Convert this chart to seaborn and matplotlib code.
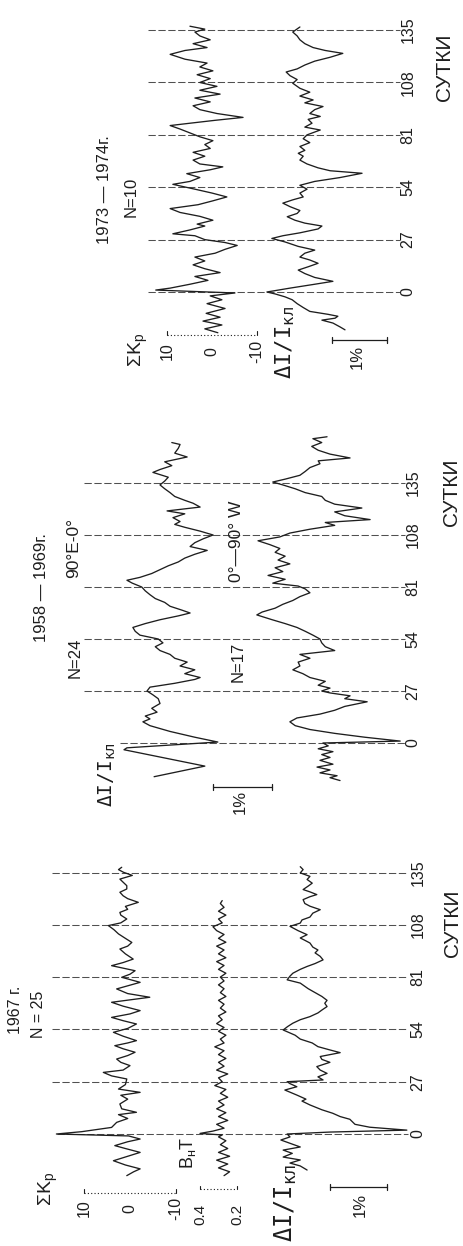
import matplotlib
matplotlib.use("Agg")
import matplotlib.pyplot as plt
import seaborn as sns

W, H, DPI = 464, 1246, 100
INK = "#1e1e1e"
GRID = "#505050"

DAY_TICKS = [0, 27, 54, 81, 108, 135]
DAY_LABELS = ["0", "27", "54", "81", "108", "135"]

# ---------------- 1967, N = 25 ----------------
kp67_days = [-21.5, -19.5, -18, -16, -13.8, -11.5, -9.5, -7.5, -6, -4,
             -2.6, -1, 0, 1.2, 3.4, 6, 8, 10, 11.2, 13,
             15.5, 18, 20, 21.5, 23.2, 25.5, 28.4, 30, 31.8, 33,
             35.3, 37, 38.7, 40.5, 42.2, 44, 45.6, 47, 48.2, 50.5,
             52.5, 54.5, 56.8, 58.5, 60.2, 62, 63.7, 66, 68, 70.6,
             72.5, 74.9, 76.5, 78.3, 80.9, 82.5, 84.3, 86.9, 88.5, 90.3,
             93, 95.5, 97, 98.9, 101, 103.3, 105.5, 107.6, 109, 111,
             113, 114.4, 116, 117.5, 119.6, 121.5, 123, 124.8, 126.5, 128.2,
             130, 131.6, 133.5, 135.1, 136.5, 137.7]
kp67 = [0.7, -0.8, -2.2, 1.0, 3.6, 0.5, -2.2, 1.0, 3.3, 0.5,
        -2.2, 0.3, 16.0, 10.5, 4.0, 2.9, 0.5, 2.5, -1.4, 1.8,
        2.2, 0.5, 2.0, -2.2, 2.5, 1.0, 0.7, 4.0, 5.8, 1.5,
        0.0, 2.0, 2.9, 0.5, -1.1, 1.5, 3.3, 0.5, -1.4, 1.5,
        3.6, 0.5, -1.4, 1.5, 4.0, 0.0, -2.2, 1.5, 4.0, -4.3,
        0.5, 2.9, 0.5, -2.2, 1.8, 0.0, -1.1, 4.0, 1.5, -0.7,
        1.0, 2.2, 0.5, -0.4, 1.0, 2.5, 3.5, 4.7, 2.0, 0.7,
        2.0, 2.2, 0.5, 1.0, -1.8, 0.5, 1.5, 2.2, 0.7, 0.7,
        1.5, 2.2, -0.5, 1.4, 2.5, 1.8]

b67_days = [-21.5, -19.5, -17.5, -15.5, -13.5, -11.5, -9.5, -7.5, -5.5, -3.5,
            -1.5, -0.5, 0.3, 1.5, 3, 5, 7, 9, 11, 13,
            15, 17, 19, 21, 23, 25, 27, 29, 31, 33,
            35, 37, 39, 41, 43, 45, 47, 49, 51, 53,
            55, 57, 59, 61, 63, 65, 67, 69, 71, 73,
            75, 77, 79, 81, 83, 85, 87, 89, 91, 93,
            95, 97, 99, 101, 103, 105, 107, 109, 111, 113,
            115, 117, 119, 120.5]
b67 = [0.27, 0.24, 0.30, 0.25, 0.31, 0.24, 0.30, 0.25, 0.29, 0.26,
       0.30, 0.28, 0.40, 0.33, 0.27, 0.31, 0.25, 0.30, 0.26, 0.31,
       0.27, 0.30, 0.25, 0.29, 0.26, 0.32, 0.28, 0.30, 0.25, 0.31,
       0.27, 0.30, 0.26, 0.30, 0.27, 0.32, 0.27, 0.29, 0.26, 0.30,
       0.27, 0.31, 0.28, 0.30, 0.26, 0.29, 0.27, 0.30, 0.26, 0.29,
       0.27, 0.30, 0.27, 0.29, 0.26, 0.30, 0.27, 0.31, 0.26, 0.30,
       0.27, 0.31, 0.26, 0.30, 0.27, 0.31, 0.33, 0.28, 0.30, 0.26,
       0.30, 0.27, 0.29, 0.28]

di67_days = [-18.6, -16.5, -15, -13.4, -11.9, -10, -8.3, -6.7, -4.8, -3.1,
             -1.5, 0, 1.0, 2.0, 3.5, 5, 7.6, 9, 10.7, 12.5,
             15, 17, 18, 20.1, 22.7, 24.4, 26, 27, 27.9, 29.5,
             31.3, 33, 34.8, 37, 38.5, 40, 42, 43.4, 45.1, 47,
             49, 51, 53.7, 55.5, 57.2, 59, 60.6, 62.5, 64, 65.8,
             67.5, 69, 71, 73, 75, 77.9, 79.6, 81.5, 83, 85,
             86.5, 88, 89.9, 91.7, 93.5, 95, 96.5, 98.6, 100, 101.2,
             102.9, 105, 107.2, 108.9, 110.5, 112, 114, 115.8, 117.6, 119,
             121, 122.5, 123.6, 125, 126.2, 128, 129.5, 131.4, 133, 134.8,
             136.5, 138]
di67 = [-0.30, -0.18, 0.00, -0.18, 0.12, -0.04, 0.12, -0.18, 0.00, 0.16,
        0.00, 0.05, -0.70, -2.05, -1.40, -1.14, -1.05, -0.88, -0.75, -0.56,
        -0.35, -0.21, -0.28, -0.12, 0.09, -0.12, 0.00, 0.05, -0.58, -0.49,
        -0.65, -0.53, -0.47, -0.70, -0.56, -0.53, -0.88, -0.70, -0.49, -0.39,
        -0.18, -0.09, 0.12, 0.04, -0.05, -0.18, -0.35, -0.49, -0.56, -0.65,
        -0.61, -0.65, -0.56, -0.44, -0.32, -0.18, 0.05, 0.00, -0.05, -0.18,
        -0.30, -0.44, -0.58, -0.53, -0.44, -0.49, -0.40, -0.35, -0.26, -0.18,
        -0.30, -0.14, 0.00, -0.18, -0.21, -0.35, -0.40, -0.53, -0.35, -0.26,
        -0.23, -0.35, -0.47, -0.35, -0.23, -0.32, -0.39, -0.30, -0.35, -0.18,
        -0.23, -0.18]

# ---------------- 1958-1969 ----------------
di_e_days = [-17.5, -12, -3.5, -2.5, 0.5, 3, 6, 9,
             11, 12.5, 14, 16, 18, 20.5, 23, 25, 27, 29,
             31, 33, 34, 36, 38, 40, 42, 44, 46, 48,
             50, 52, 54, 56, 58, 60, 62, 64, 66, 67.5,
             69, 71, 73, 75, 77, 79, 81, 83, 84.5, 86,
             88, 90, 92, 94, 96, 98, 100, 102, 104, 106,
             108, 110, 112, 113.5, 115, 117, 119, 120.5, 122.5, 124.5,
             126, 128, 130, 132, 134, 136, 138, 140.5, 142, 144,
             146, 148.5, 150.5, 153, 155, 156]
di_e = [0.10, -0.76, 0.61, 0.56, -0.98, -0.59, -0.17, 0.17,
        0.29, 0.17, 0.25, 0.05, 0.14, 0.00, 0.03, 0.12, 0.22, 0.17,
        -0.25, -0.59, -0.68, -0.42, -0.59, -0.34, -0.46, -0.25, -0.17, 0.00,
        0.08, -0.05, 0.03, 0.34, 0.42, 0.46, 0.25, 0.00, -0.31, -0.51,
        -0.37, -0.17, -0.08, 0.08, 0.17, 0.25, 0.31, 0.47, 0.56, 0.34,
        0.14, 0.00, -0.14, -0.31, -0.42, -0.59, -0.80, -0.51, -0.59, -0.73,
        -0.90, -0.68, -0.42, -0.25, -0.34, -0.22, -0.42, -0.12, -0.68, -0.56,
        -0.42, -0.25, -0.17, -0.08, 0.00, -0.08, -0.14, 0.12, 0.00, -0.20,
        -0.08, -0.46, -0.25, -0.31, -0.34, -0.20]

di_w_days = [-19.5, -18, -17, -15.5, -14, -12.5, -11, -9, -7.5, -6,
             -4.5, -3, -1.5, 0, 1, 3, 5, 7, 9, 11,
             13, 15, 17, 19, 21.4, 23, 24.5, 26, 27, 28.5,
             30, 32, 34, 36, 38, 40, 42, 44, 46, 48,
             50, 52, 54, 56, 58, 60, 62, 64, 66.5, 68,
             70, 72, 74, 76, 78, 80, 81.5, 83, 85, 87,
             89, 91, 93, 95, 97, 99, 101, 103, 105, 107,
             109, 111, 113, 114.5, 116, 118, 120, 122, 124, 126,
             128, 130, 132, 134, 135.5, 137, 139, 141, 143, 145,
             146.5, 148, 150, 152, 154, 156, 158, 159]
di_w = [-0.17, 0.00, -0.12, 0.17, 0.00, 0.22, -0.05, 0.17, 0.00, 0.14,
        -0.05, 0.20, 0.03, 0.12, -1.19, -0.59, -0.08, 0.34, 0.59, 0.68,
        0.56, 0.17, -0.08, -0.25, -0.63, -0.25, -0.34, 0.00, 0.14, 0.00,
        0.20, 0.08, 0.34, 0.46, 0.63, 0.51, 0.54, 0.34, 0.51, -0.08,
        0.08, 0.14, 0.17, 0.29, 0.42, 0.56, 0.76, 0.98, 1.24, 1.15,
        0.93, 0.80, 0.63, 0.51, 0.34, 0.42, 0.54, 0.97, 0.76, 1.05,
        0.80, 0.93, 0.68, 0.88, 0.76, 0.93, 0.85, 1.02, 1.22, 0.85,
        0.68, 0.34, -0.08, 0.08, -0.68, -0.25, -0.08, -0.54, -0.08, 0.08,
        0.14, 0.42, 0.59, 0.80, 0.97, 0.76, 0.51, 0.42, 0.34, 0.17,
        0.20, -0.34, 0.00, 0.20, 0.31, 0.14, 0.29, 0.05]

# ---------------- 1973-1974, N = 10 ----------------
kp73_days = [-21, -19, -17, -15, -13, -11, -8.5, -6, -4, -2,
             -0.5, 1, 2, 4, 6, 8, 10, 12, 14, 16,
             18, 20, 22, 24, 25.5, 27, 29, 30, 32, 34,
             35, 37, 39, 41, 43, 45, 47, 49, 51, 53,
             55.5, 57, 59, 61, 63, 64.5, 66, 68, 70, 72,
             74, 76, 78, 80, 82, 84, 85.8, 87, 88.5, 90,
             92, 94, 96, 98, 100, 102, 104, 106, 108, 110,
             112, 114, 116, 118, 120, 122.5, 124.5, 126, 128, 130,
             132, 134, 135.5, 137]
kp73 = [-1.3, 1.6, -2.2, 2.0, -1.8, 1.3, -2.9, 1.1, -2.2, 0.4,
        -5.1, 12.5, 9.3, 4.9, 0.9, 3.8, -1.8, 1.6, 4.2, 1.6,
        3.8, -0.7, -2.9, -5.6, -2.9, 1.6, 3.8, 8.7, 4.9, 1.6,
        3.3, -0.2, 2.7, 7.1, 9.3, 3.1, -0.2, -3.3, 0.0, 3.8,
        8.7, 4.9, 2.7, 5.6, 0.4, -2.4, 2.7, 4.2, 1.6, 4.2,
        0.4, 1.6, -0.2, 2.7, 4.9, 7.1, 9.3, 4.9, -0.7, -6.9,
        -1.1, 2.7, 4.2, 0.4, 3.8, -1.8, 2.7, -1.1, 2.7, 0.4,
        3.3, -0.2, 2.7, 1.1, 6.0, 9.3, 6.0, 1.1, 4.2, 0.4,
        2.7, 3.8, 1.6, 4.9]

di73_days = [-19.5, -18, -16, -14.5, -13.5, -12.5, -11.5, -10, -8, -6,
             -4, -2.5, -1, 0, 2, 4, 5.5, 7.5, 9.5, 11.3,
             13, 14.8, 16.5, 18, 20, 21.6, 23.5, 25.8, 27.6, 29,
             30.5, 32.5, 34, 35.5, 37, 38.8, 40.5, 42, 44, 45.8,
             47.5, 49, 51, 53, 55, 57, 59, 61.2, 62.5, 64,
             66, 68, 70, 71.5, 73, 75, 77, 79, 81, 83.5,
             85, 87, 89, 90.5, 92, 94, 95.6, 97.5, 99, 101,
             103, 105, 107.6, 109.5, 111.5, 113.4, 115, 117, 119, 121,
             123, 124.5, 126, 128, 130, 132, 134, 136.6]
di73 = [-1.00, -0.91, -0.78, -0.58, -0.82, -0.87, -0.69, -0.36, -0.24, -0.13,
        -0.04, 0.09, 0.27, 0.42, 0.00, -0.45, -0.78, -0.45, -0.27, -0.15,
        -0.33, -0.51, -0.36, -0.18, -0.27, -0.45, -0.15, 0.09, 0.33, 0.13,
        -0.18, -0.51, -0.58, -0.27, -0.09, 0.05, -0.13, -0.18, 0.00, 0.13,
        -0.05, -0.24, -0.18, -0.31, -0.18, -0.45, -0.91, -1.31, -0.73, -0.51,
        -0.31, -0.18, -0.24, -0.15, -0.27, -0.18, -0.36, -0.24, -0.31, -0.55,
        -0.27, -0.40, -0.33, -0.55, -0.36, -0.45, -0.60, -0.27, -0.42, -0.18,
        -0.36, -0.18, -0.05, -0.13, 0.00, 0.07, -0.13, -0.27, -0.45, -0.73,
        -0.96, -0.64, -0.42, -0.27, -0.18, -0.13, -0.05, -0.18]

# ---------------- figure ----------------
sns.set_theme(style="white")
plt.rcParams["font.family"] = ["Liberation Sans", "DejaVu Sans"]

fig = plt.figure(figsize=(W / DPI, H / DPI), dpi=DPI)
fig.patch.set_facecolor("white")

# panel geometry: day d -> pixel row p0 - k*d ; value v -> pixel column c - s*v
P1 = (1134, 1.937)
P2 = (743, 1.926)
P3 = (292, 1.94)


def limits(ax, p, c=None, s=None):
    p0, k = p
    ax.set_ylim((p0 - H) / k, p0 / k)
    if c is None:
        ax.set_xlim(0, W)
    else:
        ax.set_xlim(c / s, (c - W) / s)
    ax.set_axis_off()


def layer(p, c=None, s=None):
    ax = fig.add_axes([0, 0, 1, 1])
    ax.patch.set_alpha(0)
    limits(ax, p, c, s)
    return ax


def trace(days, vals, p, c, s):
    ax = layer(p, c, s)
    sns.lineplot(x=vals, y=days, orient="y", sort=False, estimator=None,
                 ax=ax, color=INK, lw=0.95)
    limits(ax, p, c, s)
    return ax


def grid(p, x0, x1, xlab, first_x0=None):
    ax = layer(p)
    for i, d in enumerate(DAY_TICKS):
        xs = first_x0 if (i == 0 and first_x0 is not None) else x0
        ax.plot([xs, x1], [d, d], color=GRID, lw=0.75, ls=(0, (7, 2.5)))
        ax.text(xlab, d, DAY_LABELS[i], rotation=90, ha="center", va="center",
                fontsize=11.5, color=INK)
    limits(ax, p)
    return ax


def pct_bar(ax, v0, d, dlab, vlab, half=1.6):
    ax.plot([v0, v0 - 1.0], [d, d], color=INK, lw=0.9)
    for v in (v0, v0 - 1.0):
        ax.plot([v, v], [d - half, d + half], color=INK, lw=0.9)
    ax.text(vlab, dlab, "1%", rotation=90, ha="center", va="center",
            fontsize=12, color=INK)


def kp_scale(ax, d, dlab):
    ax.plot([10, -10], [d, d], color=INK, lw=0.8, ls=(0, (1, 2)))
    for v in (10, -10):
        ax.plot([v, v], [d, d + 2.0], color=INK, lw=0.8)
    for v, t in zip([10, 0, -10], ["10", "0", "-10"]):
        ax.text(v, dlab, t, rotation=90, ha="center", va="center",
                fontsize=11.5, color=INK)


def ftext(x, y, s, size=11.5, **kw):
    fig.text(x / W, 1 - y / H, s, rotation=90, ha="center", va="center",
             fontsize=size, color=INK, **kw)


# ---- panel 1 : 1967 ----
grid(P1, 52, 408, 418, first_x0=57)
ax_kp67 = trace(kp67_days, kp67, P1, 130, 4.6)
ax_b67 = trace(b67_days, b67, P1, 274, 185)
ax_di67 = trace(di67_days, di67, P1, 290, 57)
kp_scale(ax_kp67, -30.5, -38.5)
ax_b67.plot([0.4, 0.2], [-28.4, -28.4], color=INK, lw=0.8, ls=(0, (1, 2)))
for v in (0.4, 0.2):
    ax_b67.plot([v, v], [-28.4, -26.6], color=INK, lw=0.8)
for v, t in zip([0.4, 0.2], ["0.4", "0.2"]):
    ax_b67.text(v, -41.3, t, rotation=90, ha="center", va="center",
                fontsize=11, color=INK)
pct_bar(ax_di67, -0.70, -27.4, -36.7, -1.23)
ftext(16, 1010, "1967 г.")
ftext(39, 1014, "N = 25")
ftext(48, 1189, r"$\mathregular{\Sigma K}_{\mathregular{p}}$", size=14)
ftext(188, 1153, r"$\mathregular{B}_{\mathregular{н}}\mathregular{T}$", size=13)
ftext(286, 1203, r"$\mathregular{\Delta I/I}_{\mathregular{кл}}$", size=17,
      family=["DejaVu Sans Mono"])
ftext(453, 923, "СУТКИ", size=15)

# ---- panel 2 : 1958-1969 ----
grid(P2, 84, 405, 413, first_x0=120)
ax_die = trace(di_e_days, di_e, P2, 160, 59)
ax_diw = trace(di_w_days, di_w, P2, 330, 59)
pct_bar(ax_die, -0.90, -22.8, -30.6, -1.36)
ftext(42, 588, "1958 — 1969г.", size=12)
ftext(75, 658, "N=24", size=12)
ftext(74, 548, "90°E-0°", size=12.5)
ftext(238, 662, "N=17", size=12)
ftext(237, 541, "0°—90° W", size=12.5)
ftext(107, 775, r"$\mathregular{\Delta I/I}_{\mathregular{кл}}$", size=14,
      family=["DejaVu Sans Mono"])
ftext(452, 492, "СУТКИ", size=15)

# ---- panel 3 : 1973-1974 ----
grid(P3, 148, 400, 408)
ax_kp73 = trace(kp73_days, kp73, P3, 212, 4.5)
ax_di73 = trace(di73_days, di73, P3, 290, 55)
kp_scale(ax_kp73, -22.2, -30.5)
pct_bar(ax_di73, -0.76, -24.7, -33.5, -1.22)
ftext(105, 190, "1973 — 1974г.", size=12)
ftext(131, 197, "N=10", size=12)
ftext(138, 350, r"$\mathregular{\Sigma K}_{\mathregular{p}}$", size=14)
ftext(285, 342, r"$\mathregular{\Delta I/I}_{\mathregular{кл}}$", size=16,
      family=["DejaVu Sans Mono"])
ftext(445, 67, "СУТКИ", size=15)

fig.savefig("out.png", dpi=DPI, facecolor="white")
